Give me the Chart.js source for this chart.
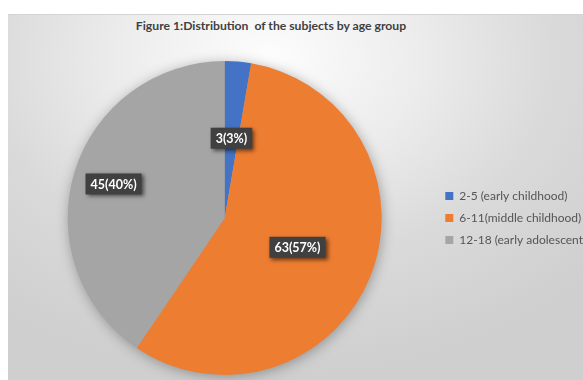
<!DOCTYPE html>
<html lang="en">
<head>
    <meta charset="UTF-8">
    <title>Distribution of the subjects by age group</title>
    <script src="https://cdn.jsdelivr.net/npm/chart.js"></script>
    <style>
        body { margin: 0; background: #fff; }
        #wrap { position: relative; width: 583px; height: 380px; overflow: hidden; }
        #panel {
            position: absolute; left: 8px; top: 14px; width: 580px; height: 370px;
            background: radial-gradient(ellipse 75% 85% at 45% 12%, #fdfdfd 0%, #ececec 35%, #dadada 65%, #cfcfcf 100%);
            border-top: 1px solid #d4d4d4;
        }
        #title {
            position: absolute; left: 71px; width: 400px; top: 18px; text-align: center;
            font: bold 12.2px Lato, sans-serif; color: #404040; white-space: pre;
        }
        canvas { position: absolute; left: 0; top: 0; }
    </style>
</head>
<body>
<div id="wrap">
    <div id="panel"></div>
    <div id="title">Figure 1:Distribution  of the subjects by age group</div>
    <canvas id="pieChart" width="583" height="380"></canvas>
</div>
<script>
    const ageGroups = ['2-5 (early childhood)', '6-11(middle childhood)', '12-18 (early adolescent'];
    const subjectCounts = [3, 63, 45];
    const subjectPercents = [3, 57, 40];
    const sliceColors = ['#4472C4', '#ED7D31', '#A5A5A5'];
    const labelDistance = [0.51, 0.5, 0.74];

    // soft shadow under the whole pie
    const pieShadow = {
        id: 'pieShadow',
        beforeDatasetsDraw(chart) {
            const arc = chart.getDatasetMeta(0).data[0];
            if (!arc) return;
            const ctx = chart.ctx;
            ctx.save();
            ctx.shadowColor = 'rgba(0,0,0,0.35)';
            ctx.shadowBlur = 14;
            ctx.shadowOffsetX = 1;
            ctx.shadowOffsetY = 2;
            ctx.fillStyle = '#A5A5A5';
            ctx.beginPath();
            ctx.arc(arc.x, arc.y, arc.outerRadius - 1, 0, Math.PI * 2);
            ctx.fill();
            ctx.restore();
        }
    };

    // dark callout boxes like the original data labels
    const boxLabels = {
        id: 'boxLabels',
        afterDatasetsDraw(chart) {
            const ctx = chart.ctx;
            const meta = chart.getDatasetMeta(0);
            ctx.save();
            ctx.font = 'bold 12.5px Lato, sans-serif';
            ctx.textAlign = 'center';
            ctx.textBaseline = 'middle';
            meta.data.forEach((arc, i) => {
                const mid = (arc.startAngle + arc.endAngle) / 2;
                const r = arc.outerRadius * labelDistance[i];
                const x = arc.x + Math.cos(mid) * r;
                const y = arc.y + Math.sin(mid) * r;
                const text = subjectCounts[i] + '(' + subjectPercents[i] + '%)';
                const w = ctx.measureText(text).width + 10;
                const h = 21;
                ctx.save();
                ctx.shadowColor = 'rgba(0,0,0,0.55)';
                ctx.shadowBlur = 4;
                ctx.shadowOffsetX = 2;
                ctx.shadowOffsetY = 2;
                ctx.fillStyle = '#404040';
                ctx.fillRect(x - w / 2, y - h / 2, w, h);
                ctx.restore();
                ctx.fillStyle = '#ffffff';
                ctx.fillText(text, x, y + 1);
            });
            ctx.restore();
        }
    };

    new Chart(document.getElementById('pieChart'), {
        type: 'pie',
        data: {
            labels: ageGroups,
            datasets: [{
                data: subjectCounts,
                backgroundColor: sliceColors,
                borderWidth: 0
            }]
        },
        options: {
            responsive: false,
            animation: false,
            layout: { padding: { left: 14, right: -10, top: 61, bottom: 5 } },
            plugins: {
                legend: {
                    position: 'right',
                    labels: {
                        boxWidth: 8,
                        boxHeight: 8,
                        padding: 10,
                        color: '#555555',
                        font: { family: 'Lato', size: 12 }
                    }
                },
                tooltip: { enabled: false }
            }
        },
        plugins: [pieShadow, boxLabels]
    });
</script>
</body>
</html>
